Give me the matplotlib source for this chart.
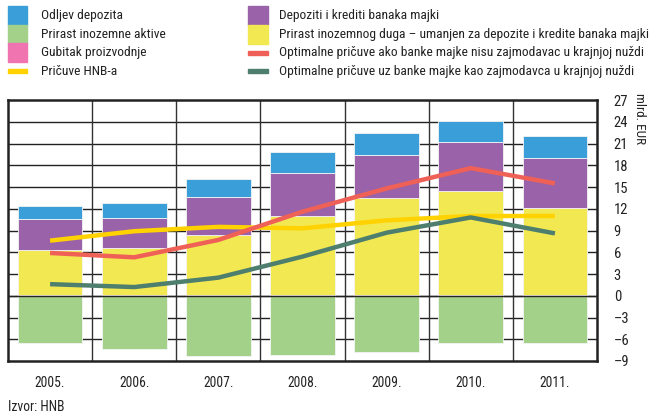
import matplotlib.pyplot as plt
from matplotlib import font_manager
import numpy as np

# pick a narrow font if one is installed
names = {f.name for f in font_manager.fontManager.ttflist}
font = 'DejaVu Sans'
for cand in ['Liberation Sans Narrow', 'DejaVu Sans Condensed', 'Roboto Condensed']:
    if cand in names:
        font = cand
        break
plt.rcParams['font.family'] = [font, 'DejaVu Sans']

years = ['2005.', '2006.', '2007.', '2008.', '2009.', '2010.', '2011.']
gubitak = [0.15, 0.15, 0.15, 0.15, 0.15, 0.15, 0.15]
inozemni_dug = [6.1, 6.45, 8.25, 10.85, 13.35, 14.3, 11.9]
banke_majke = [4.3, 4.1, 5.2, 6.0, 5.9, 6.75, 6.9]
odljev = [1.85, 2.15, 2.5, 2.8, 3.0, 2.9, 3.1]
inozemna_aktiva = [-6.5, -7.4, -8.25, -8.15, -7.7, -6.55, -6.55]
pricuve_hnb = [7.6, 8.9, 9.5, 9.3, 10.4, 11.0, 11.0]
opt_bez = [5.9, 5.3, 7.7, 11.6, 14.8, 17.6, 15.5]
opt_uz = [1.6, 1.2, 2.5, 5.4, 8.7, 10.8, 8.6]

c_blue = '#3a9fd9'
c_green = '#a3d18a'
c_pink = '#f074b0'
c_yellow = '#f2e852'
c_purple = '#9a62a8'
c_red = '#ef6157'
c_dkgreen = '#4e7f6e'
c_hnb = '#ffd200'

fig = plt.figure(figsize=(6.51, 4.2), dpi=100)
ax = fig.add_axes([8 / 651, 1 - 361 / 420, 589 / 651, 261 / 420])

x = np.arange(len(years))
w = 0.77
kw = dict(width=w, edgecolor='#f4f4f4', linewidth=0.6, zorder=2)
ax.bar(x, inozemna_aktiva, color=c_green, **kw)
b0 = np.array(gubitak)
ax.bar(x, gubitak, color=c_pink, width=w, zorder=2, linewidth=0)
b1 = b0 + np.array(inozemni_dug)
ax.bar(x, inozemni_dug, bottom=b0, color=c_yellow, **kw)
b2 = b1 + np.array(banke_majke)
ax.bar(x, banke_majke, bottom=b1, color=c_purple, **kw)
ax.bar(x, odljev, bottom=b2, color=c_blue, **kw)

ax.plot(x, pricuve_hnb, color=c_hnb, lw=3.2, zorder=4, solid_capstyle='butt')
ax.plot(x, opt_bez, color=c_red, lw=3.2, zorder=4, solid_capstyle='butt')
ax.plot(x, opt_uz, color=c_dkgreen, lw=3.2, zorder=4, solid_capstyle='butt')

ax.set_xlim(-0.5, len(years) - 0.5)
ax.set_ylim(-9, 27)
yt = np.arange(-9, 28, 3)
for v in yt[1:-1]:
    ax.axhline(v, color='#222222', lw=1.0, zorder=1)
for k in range(1, len(years)):
    ax.axvline(k - 0.5, color='#333333', lw=1.0, zorder=1)
ax.axhline(0, color='#222222', lw=1.0, zorder=3)

for s in ax.spines.values():
    s.set_linewidth(1.8)
    s.set_color('#222222')

ax.yaxis.tick_right()
ax.set_yticks(yt)
ax.set_yticklabels([str(v).replace('-', '\u2013') for v in yt])
ax.tick_params(axis='y', length=0, pad=12, labelsize=10.5, colors='#222222')
ax.set_xticks(x)
ax.set_xticklabels(years)
ax.tick_params(axis='x', length=0, pad=11, labelsize=9.8, colors='#222222')

fig.text(640 / 651, 1 - 93 / 420, 'mlrd. EUR', rotation=270, ha='center', va='top',
         fontsize=9.5, color='#222222')
fig.text(8 / 651, 1 - 407 / 420, 'Izvor: HNB', ha='left', va='center', fontsize=9.8,
         color='#222222')

# legend drawn by hand in figure pixels
def px(xp, yp):
    return xp / 651, 1 - yp / 420

left_items = [('Odljev depozita', c_blue, 'box'),
              ('Prirast inozemne aktive', c_green, 'box'),
              ('Gubitak proizvodnje', c_pink, 'box'),
              ('Pričuve HNB-a', c_hnb, 'line')]
right_items = [('Depoziti i krediti banaka majki', c_purple, 'box'),
               ('Prirast inozemnog duga – umanjen za depozite i kredite banaka majki', c_yellow, 'box'),
               ('Optimalne pričuve ako banke majke nisu zajmodavac u krajnjoj nuždi', c_red, 'line'),
               ('Optimalne pričuve uz banke majke kao zajmodavca u krajnjoj nuždi', c_dkgreen, 'line')]

def draw_legend(items, x0, x1, xt):
    for i, (label, col, kind) in enumerate(items):
        yc = 15.5 + i * 18.6
        if kind == 'box':
            x_, y_ = px(x0, yc + 9.5)
            fig.add_artist(plt.Rectangle((x_, y_), (x1 - x0) / 651, 19 / 420,
                                         color=col, transform=fig.transFigure))
        else:
            x_, y_ = px(x0, yc + 2)
            fig.add_artist(plt.Rectangle((x_, y_), (x1 - x0) / 651, 4 / 420,
                                         color=col, transform=fig.transFigure))
        tx, ty = px(xt, yc)
        fig.text(tx, ty, label, ha='left', va='center', fontsize=9.7, color='#222222')

draw_legend(left_items, 8, 27, 41)
draw_legend(right_items, 248, 268, 279)

fig.savefig('out.png', dpi=100)
